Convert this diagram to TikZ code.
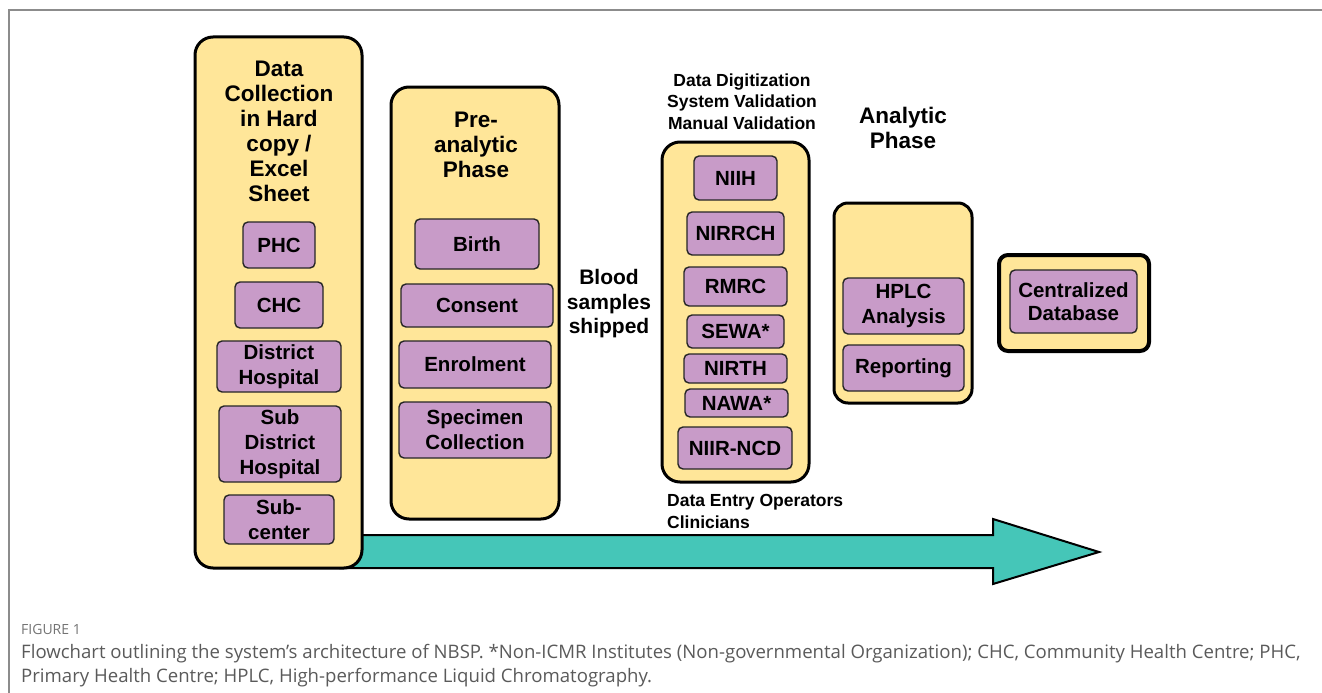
\documentclass[tikz,border=0pt]{standalone}
\usepackage{fontspec}
\setmainfont{Liberation Sans}
\newfontfamily\capfont{Open Sans}
\definecolor{ybox}{HTML}{FFE699}
\definecolor{pbox}{HTML}{C89BC8}
\definecolor{teal1}{HTML}{45C6B8}
\definecolor{frameg}{HTML}{8C8C8C}
\definecolor{capg}{HTML}{5A5A5A}
\begin{document}
\begin{tikzpicture}[x=1pt,y=-1pt,
  outer/.style={draw=black, line width=3pt, fill=ybox, rounded corners=18pt, inner sep=0pt},
  inbox/.style={draw=black!85, line width=1.4pt, fill=pbox, rounded corners=5pt, align=center,
    font=\bfseries\fontsize{20.5}{25}\selectfont, inner sep=0pt},
  head/.style={align=center, font=\bfseries\fontsize{22.5}{25}\selectfont, inner sep=0pt},
  small/.style={font=\bfseries\fontsize{17.5}{21.5}\selectfont, inner sep=0pt},
  captxt/.style={anchor=base west, inner sep=0pt, text=capg, font=\capfont\fontsize{18.6}{24}\selectfont}]
\useasboundingbox (0,0) rectangle (1322,693);
% frame
\draw[frameg, line width=1.5pt] (9,693) -- (9,10) -- (1322,10);
% big arrow
\coordinate (a0) at (340,535);
\draw[line width=2pt, fill=teal1, line join=miter]
  (a0) -- (993,535) -- (993,519) -- (1099,552) -- (993,584) -- (993,568) -- (340,568) -- cycle;
% box 1
\node[outer, minimum width=167, minimum height=531] (b1) at (278.5,302.5) {};
\node[head] (t1) at (279,131.5) {Data\\Collection\\in Hard\\copy /\\Excel\\Sheet};
\node[inbox, minimum width=72, minimum height=46] (phc) at (279,245) {PHC};
\node[inbox, minimum width=88, minimum height=46] (chc) at (279,305) {CHC};
\node[inbox, minimum width=124, minimum height=51] (dh) at (279,366.5) {District\\Hospital};
\node[inbox, minimum width=122, minimum height=76] (sdh) at (280,444) {Sub\\District\\Hospital};
\node[inbox, minimum width=110, minimum height=49] (sc) at (279,519.5) {Sub-\\center};
% box 2
\node[outer, minimum width=168, minimum height=432] (b2) at (475,303) {};
\node[head] (t2) at (476,144.5) {Pre-\\analytic\\Phase};
\node[inbox, minimum width=124, minimum height=50] (birth) at (477,244) {Birth};
\node[inbox, minimum width=152, minimum height=43] (cons) at (477,305.5) {Consent};
\node[inbox, minimum width=152, minimum height=47] (enr) at (475,364.5) {Enrolment};
\node[inbox, minimum width=152, minimum height=56] (spec) at (475,430) {Specimen\\Collection};
% blood samples
\node[head, font=\bfseries\fontsize{21}{24.5}\selectfont] (blood) at (609,304) {Blood\\samples\\shipped};
% box 3
\node[small, align=center] (t3) at (742,101.5) {Data Digitization\\System Validation\\Manual Validation};
\node[outer, minimum width=147, minimum height=340] (b3) at (735.5,312) {};
\node[inbox, minimum width=83, minimum height=44] (niih) at (735.5,178) {NIIH};
\node[inbox, minimum width=97, minimum height=43] (nirrch) at (735.5,233.5) {NIRRCH};
\node[inbox, minimum width=103, minimum height=39] (rmrc) at (735.5,286.5) {RMRC};
\node[inbox, minimum width=97, minimum height=33] (sewa) at (735.5,331.5) {SEWA*};
\node[inbox, minimum width=103, minimum height=29] (nirth) at (735.5,368.5) {NIRTH};
\node[inbox, minimum width=103, minimum height=28] (nawa) at (736.5,403) {NAWA*};
\node[inbox, minimum width=114, minimum height=42] (niir) at (735,448) {NIIR-NCD};
\node[small, align=left, anchor=west, font=\bfseries\fontsize{17.5}{22}\selectfont] (deo) at (667,511) {Data Entry Operators\\Clinicians};
% box 4
\node[head] (t4) at (903,128) {Analytic\\Phase};
\node[outer, rounded corners=14pt, minimum width=138, minimum height=200] (b4) at (903,303) {};
\node[inbox, minimum width=121, minimum height=56] (hplc) at (903.5,306) {HPLC\\Analysis};
\node[inbox, minimum width=121, minimum height=46] (rep) at (903.5,368) {Reporting};
% box 5
\node[outer, line width=4pt, rounded corners=9pt, minimum width=150, minimum height=96] (b5) at (1074,303) {};
\node[inbox, minimum width=127, minimum height=63, font=\bfseries\fontsize{20.5}{23}\selectfont] (cdb) at (1073.5,301.5) {Centralized\\Database};
% caption
\node[anchor=base west, inner sep=0pt, text=capg!85, font=\capfont\fontsize{14}{16}\selectfont] (fig) at (21,634) {FIGURE 1};
\node[captxt] (cap1) at (21,658) {Flowchart outlining the system’s architecture of NBSP. *Non-ICMR Institutes (Non-governmental Organization); CHC, Community Health Centre; PHC,};
\node[captxt] (cap2) at (21,682) {Primary Health Centre; HPLC, High-performance Liquid Chromatography.};
\end{tikzpicture}
\end{document}
